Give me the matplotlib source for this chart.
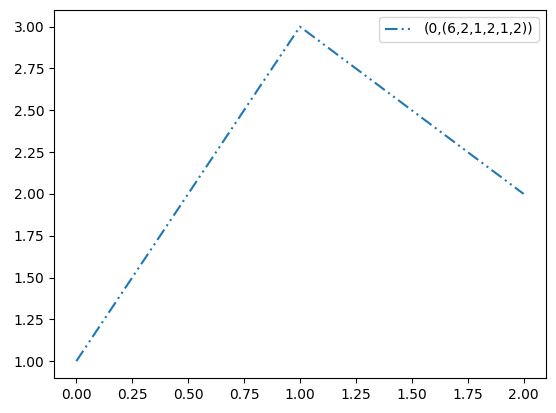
import matplotlib
matplotlib.use("Agg")
import matplotlib.pyplot as plt

x = [0, 1, 2]
y = [1, 3, 2]
dash_style = (0, (6, 2, 1, 2, 1, 2))
label = "(0,(6,2,1,2,1,2))"

fig = plt.figure(figsize=(5.56, 4.13), dpi=100)
ax = fig.add_subplot(111)
fig.subplots_adjust(left=0.097, right=0.982, top=0.976, bottom=0.085)
ax.plot(x, y, linestyle=dash_style, label=label)
ax.legend()
fig.savefig("out.png", dpi=100)
